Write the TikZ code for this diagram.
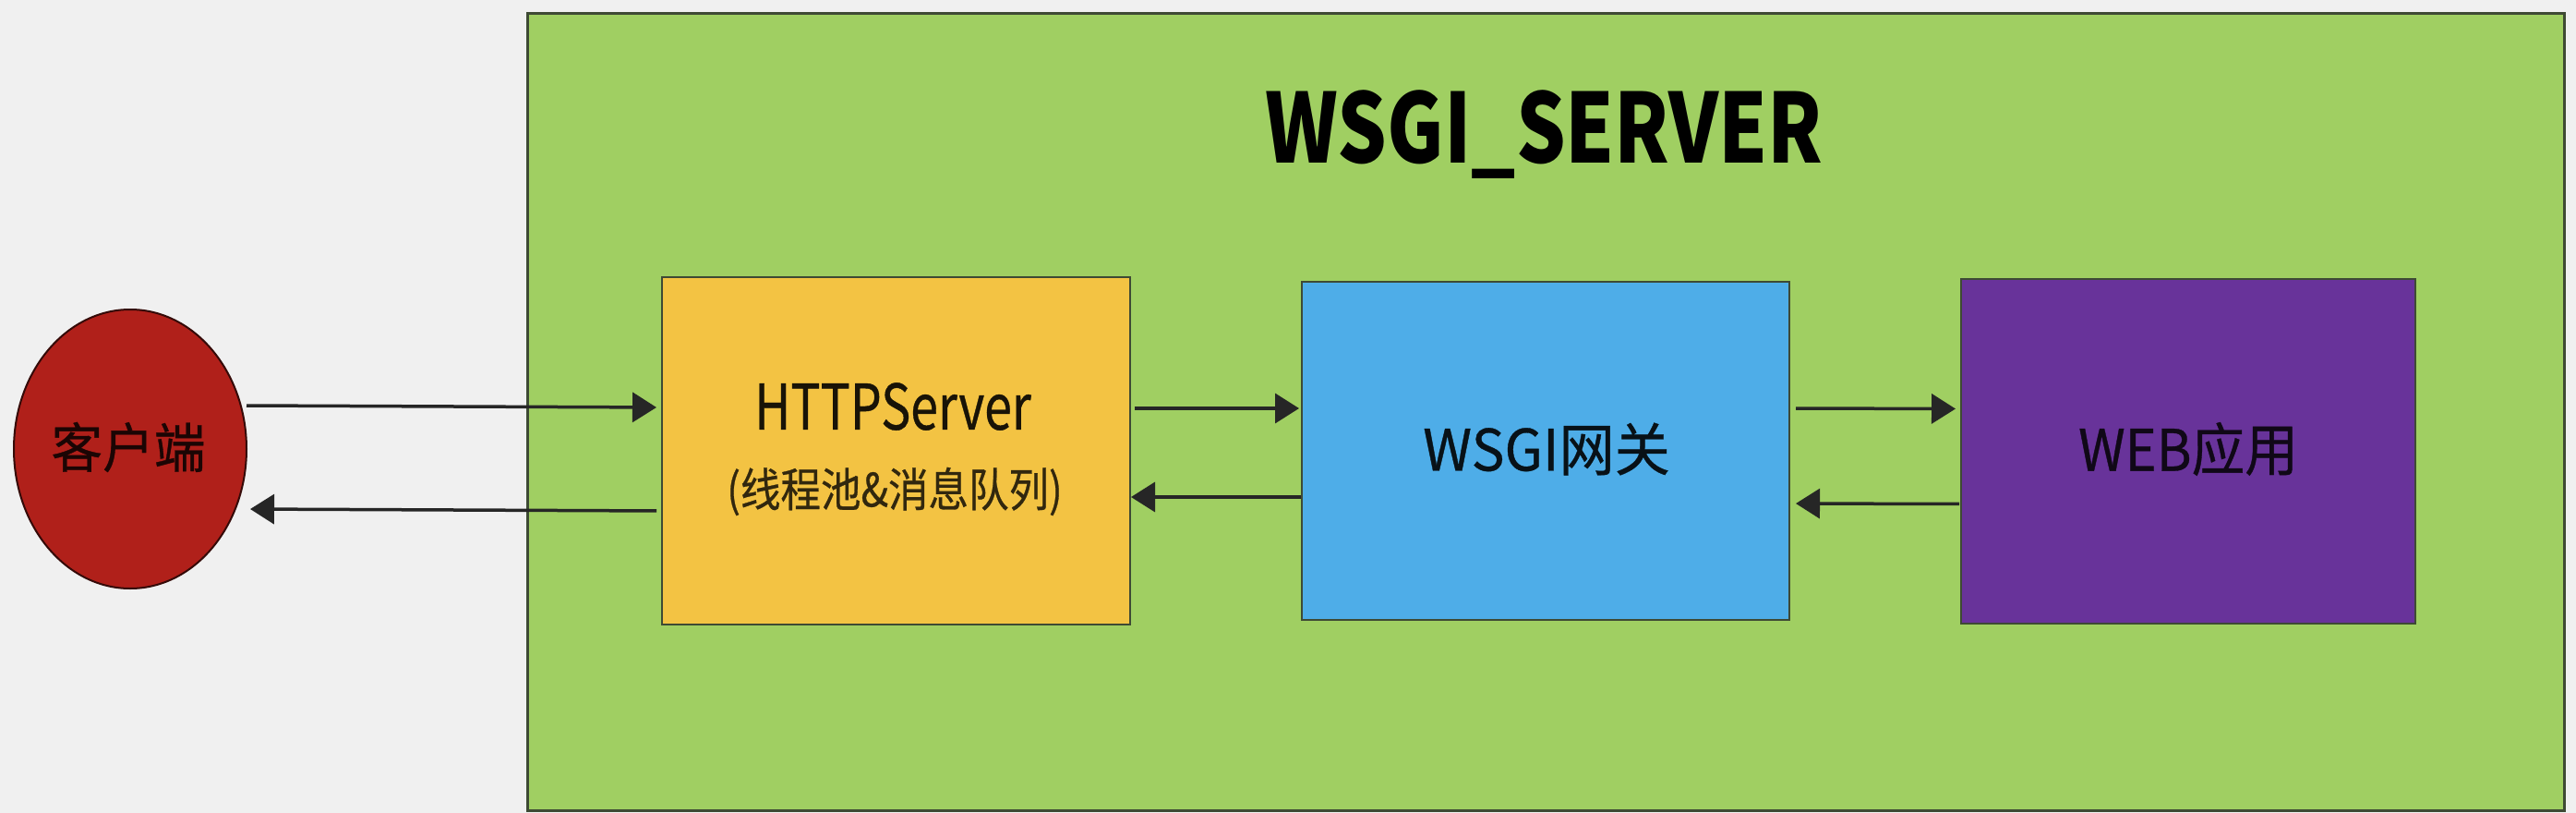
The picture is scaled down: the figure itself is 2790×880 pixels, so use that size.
\documentclass[tikz,border=0pt]{standalone}
\usepackage{fontspec}
\setmainfont{Noto Sans CJK SC}
\newfontfamily\txtfont[FakeBold=0.6]{Noto Sans CJK SC}
\usetikzlibrary{arrows.meta,shapes.geometric}
\definecolor{bgc}{HTML}{F0F0F0}
\definecolor{greenc}{HTML}{A0CF62}
\definecolor{yellowc}{HTML}{F3C343}
\definecolor{bluec}{HTML}{4EADE8}
\definecolor{purplec}{HTML}{68339A}
\definecolor{redc}{HTML}{B0201A}
\definecolor{edgec}{HTML}{3E4A34}
\tikzset{
  panel/.style={draw=edgec, line width=3pt, inner sep=0pt, outer sep=0pt},
  blockbox/.style={draw=edgec, line width=2.5pt, inner sep=0pt, outer sep=0pt},
  label/.style={inner sep=0pt},
  arr/.style={line width=3.5pt, draw=black!85, -{Triangle[length=26pt,width=32pt]}},
}
\begin{document}
\begin{tikzpicture}[x=1pt,y=-1pt]
\fill[bgc] (0,0) rectangle (2790,880);
\useasboundingbox (0,0) rectangle (2790,880);
% outer server panel
\node[panel, fill=greenc, minimum width=2206pt, minimum height=862pt] (server) at (1674,446) {};
\node[label, font=\bfseries\fontsize{104}{110}\selectfont, text=black, xscale=0.81] (title) at (1672,146) {WSGI\_SERVER};
% client
\node[ellipse, draw=black!70!redc, line width=2pt, fill=redc, minimum width=252pt, minimum height=302pt, inner sep=0pt, outer sep=0pt] (client) at (141,486) {};
\node[label, font=\txtfont\fontsize{58}{64}\selectfont, text=black!85!redc, xscale=0.96] (clientt) at (139,484) {客户端};
% blocks
\node[blockbox, fill=yellowc, minimum width=507pt, minimum height=376pt] (http) at (970.5,488) {};
\node[label, font=\txtfont\fontsize{68}{72}\selectfont, text=black!90!yellowc, xscale=0.79] (httpt) at (967,440) {HTTPServer};
\node[label, font=\txtfont\fontsize{50}{56}\selectfont, text=black!80!yellowc, xscale=0.87] (https) at (969,532) {(线程池\&消息队列)};
\node[blockbox, fill=bluec, minimum width=528pt, minimum height=366pt] (wsgi) at (1674,488) {};
\node[label, font=\txtfont\fontsize{62}{68}\selectfont, text=black!90!bluec, xscale=0.97] (wsgit) at (1675,486) {WSGI网关};
\node[blockbox, fill=purplec, minimum width=492pt, minimum height=373pt] (web) at (2370,488.5) {};
\node[label, font=\txtfont\fontsize{62}{68}\selectfont, text=black!85!purplec, xscale=0.93] (webt) at (2370,486) {WEB应用};
% connectors
\draw[arr, shorten >=6pt] ([yshift=47pt]client.east) -- ([yshift=47pt]http.west);
\draw[arr, shorten <=6pt, shorten >=4pt] ([yshift=-65pt]http.west) -- ([yshift=-65pt]client.east);
\draw[arr, shorten <=5pt, shorten >=3pt] ([yshift=46pt]http.east) -- ([yshift=46pt]wsgi.west);
\draw[arr, shorten <=1pt, shorten >=1pt] ([yshift=-50pt]wsgi.west) -- ([yshift=-50pt]http.east);
\draw[arr, shorten <=7pt, shorten >=6pt] ([yshift=46pt]wsgi.east) -- ([yshift=46pt]web.west);
\draw[arr, shorten <=2pt, shorten >=7pt] ([yshift=-57pt]web.west) -- ([yshift=-57pt]wsgi.east);
\end{tikzpicture}
\end{document}
